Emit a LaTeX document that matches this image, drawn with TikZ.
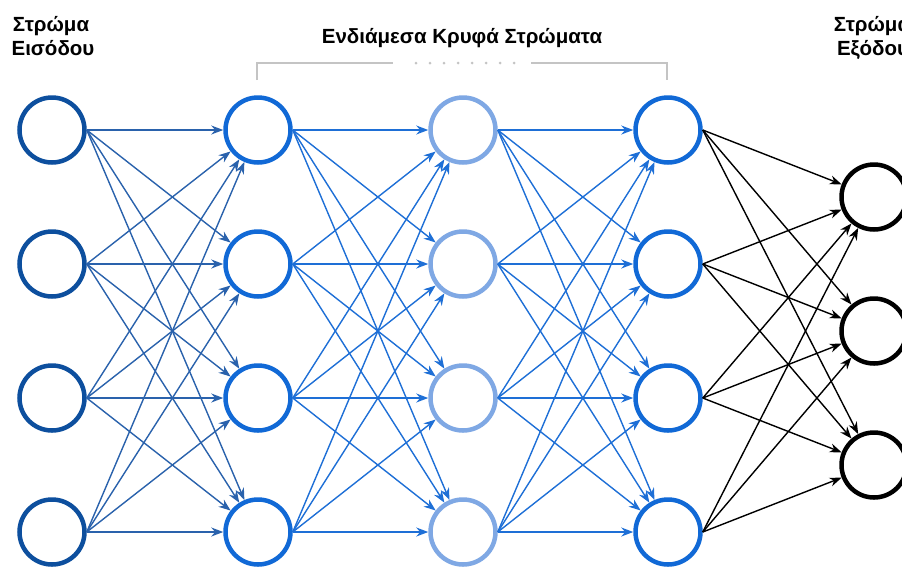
\documentclass[tikz,border=0pt]{standalone}
\usepackage{fontspec}
\setmainfont{Liberation Sans}
\usetikzlibrary{arrows.meta}
\definecolor{inblue}{HTML}{0D4F9E}
\definecolor{hidblue}{HTML}{1169D6}
\definecolor{lightblue}{HTML}{7FA8E4}
\definecolor{edgeA}{HTML}{2A62AC}
\definecolor{edgeB}{HTML}{1E6FD6}
\definecolor{bracketgray}{HTML}{C4C4C4}
\tikzset{
  neuron/.style={circle, draw, fill=white, line width=4.5pt, minimum size=65pt, inner sep=0pt},
  inneuron/.style={neuron, draw=inblue},
  hidneuron/.style={neuron, draw=hidblue},
  midneuron/.style={neuron, draw=lightblue},
  outneuron/.style={neuron, draw=black},
  conn/.style={line width=1.4pt, -{Stealth[length=12pt,width=9pt]}},
  lbl/.style={font=\bfseries\fontsize{20.5}{24}\selectfont, anchor=base, inner sep=0pt},
  title/.style={font=\bfseries\fontsize{20.5}{24}\selectfont, anchor=base, inner sep=0pt},
  brk/.style={draw=bracketgray, line width=2.5pt},
}
\begin{document}
\begin{tikzpicture}[x=1pt,y=-1pt]
\useasboundingbox (0,0) rectangle (902,566);
\begin{scope}
\clip (0,0) rectangle (902,566);
% nodes
\foreach \i/\y in {1/130,2/264,3/398,4/532}{
  \node[inneuron]  (a\i) at (52,\y) {};
  \node[hidneuron] (b\i) at (258,\y) {};
  \node[midneuron] (c\i) at (463,\y) {};
  \node[hidneuron] (d\i) at (668,\y) {};
}
\foreach \k/\y in {1/197,2/331,3/465}{
  \node[outneuron] (e\k) at (874,\y) {};
}
% connections
\foreach \i in {1,...,4}{
  \foreach \j in {1,...,4}{
    \draw[conn, draw=edgeA, fill=edgeA] (a\i.east) -- (b\j);
    \draw[conn, draw=edgeB, fill=edgeB] (b\i.east) -- (c\j);
    \draw[conn, draw=edgeB, fill=edgeB] (c\i.east) -- (d\j);
  }
  \foreach \k in {1,2,3}{
    \draw[conn, draw=black, fill=black] (d\i.east) -- (e\k);
  }
}
% labels
\node[lbl] (in1) at (51,31) {Στρώμα};
\node[lbl] (in2) at (53,55) {Εισόδου};
\node[lbl] (out1) at (872,31) {Στρώμα};
\node[lbl] (out2) at (873,55) {Εξόδου};
\node[title] (hid) at (462,43) {Ενδιάμεσα Κρυφά Στρώματα};
% bracket
\coordinate (bl) at (257,80);
\coordinate (blc) at (257,63);
\coordinate (ble) at (393,63);
\coordinate (brs) at (531,63);
\coordinate (brc) at (667,63);
\coordinate (br) at (667,80);
\draw[brk] (bl) -- (blc) -- (ble);
\draw[brk] (brs) -- (brc) -- (br);
\foreach \n in {0,...,7}{
  \fill[bracketgray] (416+14*\n,63) circle (1.5pt);
}
\end{scope}
\end{tikzpicture}
\end{document}
